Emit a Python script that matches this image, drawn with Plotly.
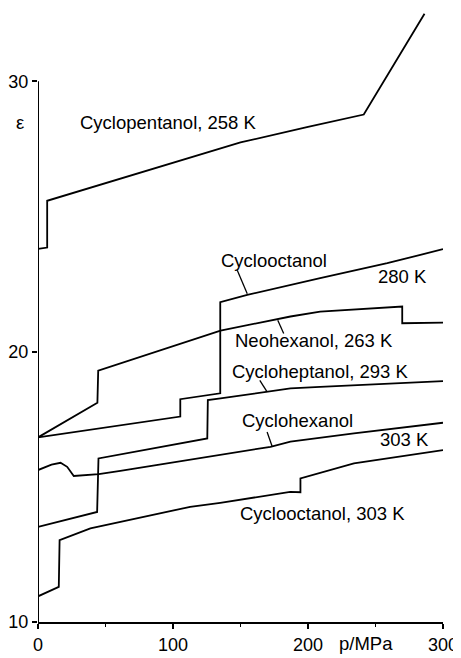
import plotly.graph_objects as go

# ---- data ----
cpent_x = [0, 6.8, 6.8, 50, 100, 150, 200, 241.3, 286.3]
cpent_y = [23.8, 23.85, 25.58, 26.24, 27.0, 27.74, 28.31, 28.77, 32.5]

coct280_x = [0, 105.4, 105.4, 135.0, 135.0, 155, 209, 258.7, 300]
coct280_y = [16.83, 17.6, 18.24, 18.46, 21.83, 22.1, 22.72, 23.27, 23.79]

neohex_x = [0, 44.0, 44.6, 75.8, 105.4, 135.2, 187, 209, 269.8, 269.8, 300]
neohex_y = [16.83, 18.11, 19.3, 19.81, 20.31, 20.78, 21.3, 21.48, 21.67, 21.05, 21.07]

chept_x = [0, 43.8, 44.8, 125.4, 125.8, 135.2, 187, 209, 300]
chept_y = [13.52, 14.07, 16.05, 16.79, 18.21, 18.27, 18.64, 18.7, 18.91]

chex_x = [0, 10, 16.7, 21.6, 26.5, 45, 61, 135.2, 172.2, 187, 234, 300]
chex_y = [15.62, 15.82, 15.89, 15.74, 15.4, 15.47, 15.59, 16.17, 16.48, 16.67, 16.98, 17.37]

coct303_x = [0, 15.4, 16.0, 38.8, 112.7, 135, 186.8, 194.4, 194.4, 234, 300]
coct303_y = [10.95, 11.3, 13.03, 13.46, 14.26, 14.41, 14.81, 14.8, 15.31, 15.87, 16.36]

series = [
    (cpent_x, cpent_y),
    (coct280_x, coct280_y),
    (neohex_x, neohex_y),
    (chept_x, chept_y),
    (chex_x, chex_y),
    (coct303_x, coct303_y),
]

x_ticks = [0, 100, 200, 300]
y_ticks = [10, 20, 30]

# labels: (text, x, y)
labels = [
    ("Cyclopentanol, 258 K", 96.4, 28.48),
    ("Cyclooctanol", 174.8, 23.38),
    ("280 K", 269.7, 22.78),
    ("Neohexanol, 263 K", 204.7, 20.42),
    ("Cycloheptanol, 293 K", 209.5, 19.25),
    ("Cyclohexanol", 192.5, 17.46),
    ("303 K", 271.6, 16.76),
    ("Cyclooctanol, 303 K", 211.0, 14.03),
]

# leader lines: (x0, y0, x1, y1)
leaders = [
    (147.6, 23.01, 155.0, 22.14),
    (177.6, 21.16, 182.0, 20.67),
    (164.3, 18.94, 169.7, 18.51),
    (169.7, 17.03, 173.4, 16.50),
]

FONT = "Liberation Sans, Arial, sans-serif"
LBL = 18.5

fig = go.Figure()
for xs, ys in series:
    fig.add_trace(go.Scatter(x=xs, y=ys, mode="lines",
                             line=dict(color="black", width=1.8),
                             showlegend=False, hoverinfo="skip"))

annotations = []
for t, x, y in labels:
    annotations.append(dict(text=t, x=x, y=y, xref="x", yref="y",
                            showarrow=False, font=dict(size=LBL, color="black", family=FONT),
                            xanchor="center", yanchor="middle"))
annotations.append(dict(text="ε", x=-0.044, y=0.818, xref="paper", yref="paper", showarrow=False,
                        xanchor="center", yanchor="middle",
                        font=dict(size=LBL, color="black", family=FONT)))
annotations.append(dict(text="p/MPa", x=0.811, y=-0.036, xref="paper", yref="paper",
                        showarrow=False, xanchor="center", yanchor="middle",
                        font=dict(size=LBL, color="black", family=FONT)))

shapes = []
for x0, y0, x1, y1 in leaders:
    shapes.append(dict(type="line", x0=x0, y0=y0, x1=x1, y1=y1, xref="x", yref="y",
                       line=dict(color="black", width=1.3)))
# left axis line only up to 30
shapes.append(dict(type="line", x0=0, x1=0, y0=10, y1=30, xref="x", yref="y",
                   line=dict(color="black", width=2)))

# page body has an 8px margin, so the figure is sized 8px smaller
fig.update_layout(
    width=453, height=650,
    margin=dict(l=30, r=18, t=3, b=36),
    paper_bgcolor="white", plot_bgcolor="white",
    annotations=annotations, shapes=shapes,
    font=dict(family=FONT, color="black"),
)
fig.update_xaxes(range=[0, 300], showgrid=False, zeroline=False, automargin=False,
                 showline=True, linecolor="black", linewidth=1.8,
                 tickvals=x_ticks, ticktext=[str(v) for v in x_ticks],
                 ticks="outside", ticklen=5, tickwidth=1.5, tickcolor="black",
                 tickfont=dict(size=18, family=FONT, color="black"),
                 minor=dict(tickvals=[50, 150, 250], ticks="outside", ticklen=3,
                            tickwidth=1.2, tickcolor="black"))
fig.update_yaxes(range=[10, 32.6], showgrid=False, zeroline=False, showline=False,
                 automargin=False,
                 tickvals=y_ticks, ticktext=[str(v) for v in y_ticks],
                 ticks="outside", ticklen=5, tickwidth=1.5, tickcolor="black",
                 tickfont=dict(size=18, family=FONT, color="black"))

fig.write_html("out.html")
